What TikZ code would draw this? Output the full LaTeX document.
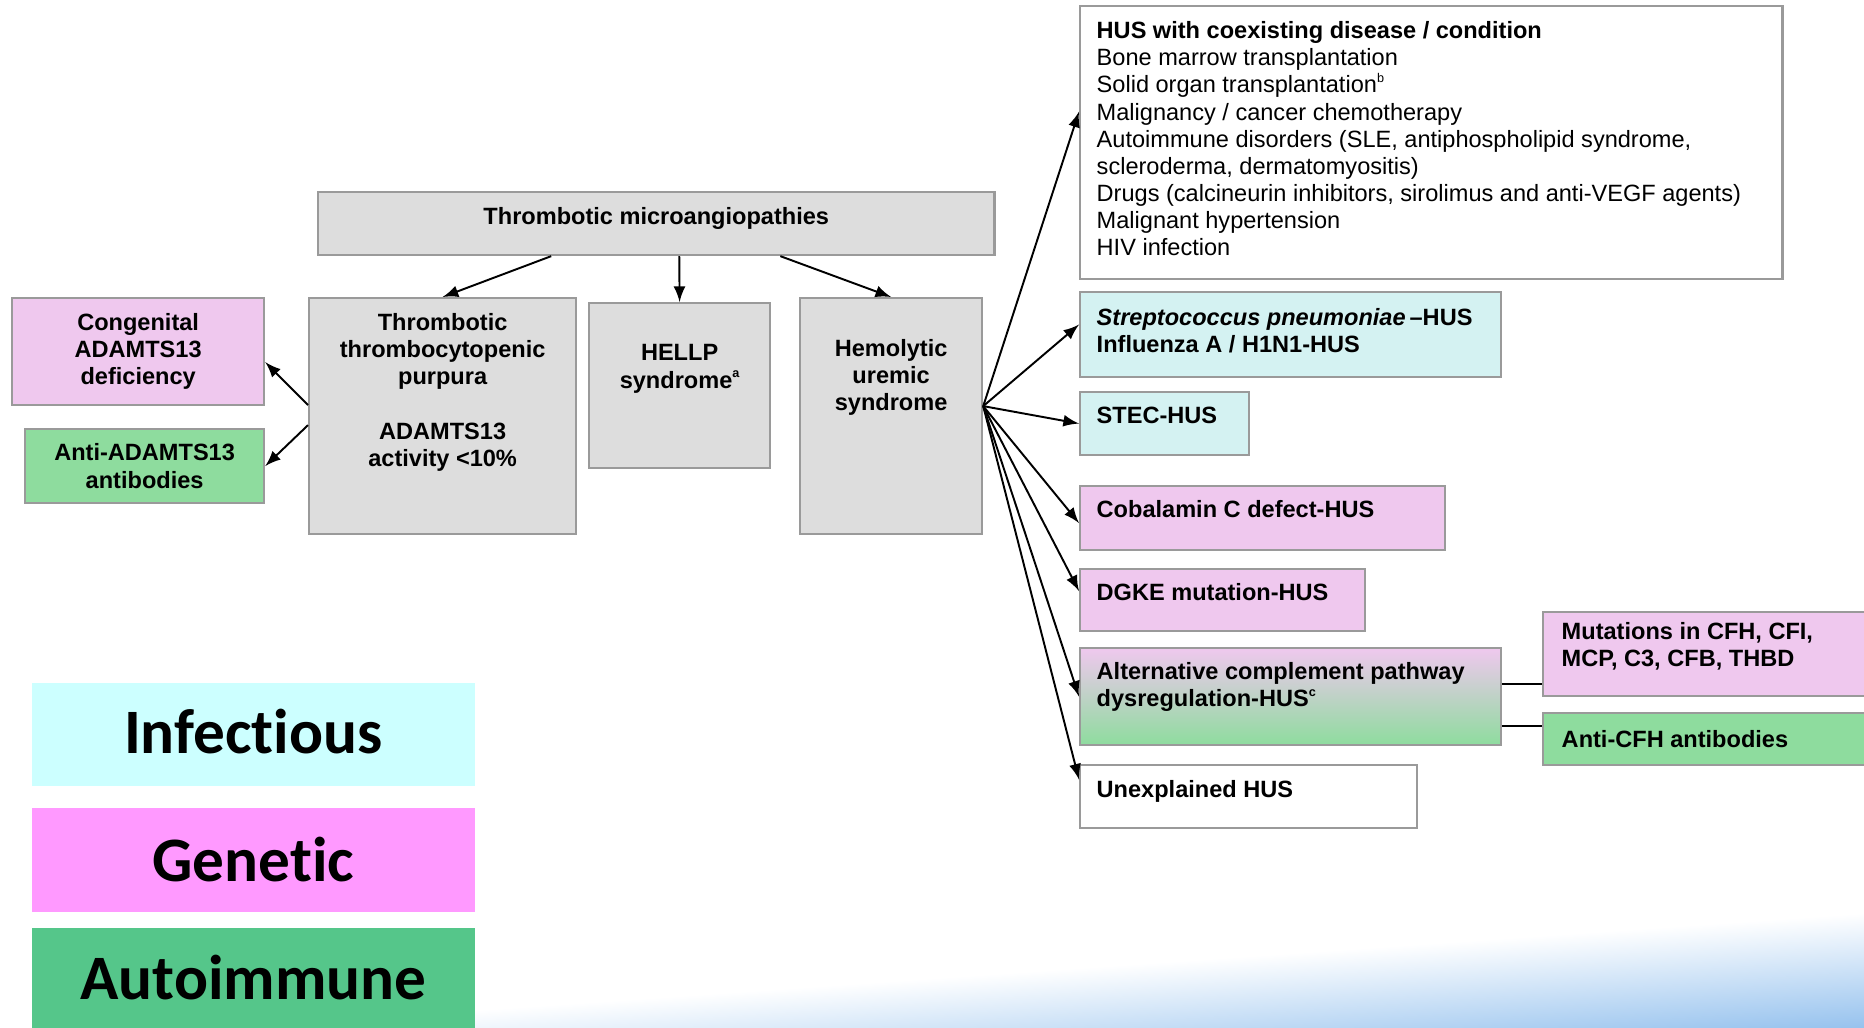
\documentclass[tikz,border=0pt]{standalone}
\usepackage{fontspec}
\setmainfont{Liberation Sans}
\newfontfamily\legendfont[Ligatures=NoCommon]{Carlito}
\usetikzlibrary{positioning}

\definecolor{graybox}{HTML}{DDDDDD}
\definecolor{pinkbox}{HTML}{EFC8EE}
\definecolor{greenbox}{HTML}{8EDC9E}
\definecolor{cyanbox}{HTML}{D4F2F2}
\definecolor{boxline}{HTML}{9A9A9A}
\definecolor{leginf}{HTML}{CCFFFF}
\definecolor{leggen}{HTML}{FF99FF}
\definecolor{legaut}{HTML}{55C68A}
\definecolor{swoosh}{HTML}{96C2EE}

\newcommand{\fn}[1]{\raisebox{0.45em}{\fontsize{3.6}{3.6}\selectfont #1}}

\begin{document}
\begin{tikzpicture}[x=0.01cm, y=0.01cm,
    box/.style={draw=boxline, line width=0.6pt, anchor=north west, inner sep=0pt},
    txt/.style={inner sep=0pt, align=left, font=\fontsize{6.7}{7.7}\selectfont\bfseries},
    ctxt/.style={txt, align=center},
    legbox/.style={anchor=north west, inner sep=0pt, minimum width=4.43cm},
    legtxt/.style={inner sep=0pt, font=\legendfont\bfseries\fontsize{18}{20}\selectfont},
    arr/.style={-latex, line width=0.55pt},
    link/.style={line width=0.7pt}]

    \useasboundingbox (0,0) rectangle (1864,-1027);
    \clip (0,0) rectangle (1864,-1027);

    % background swoosh
    \begin{scope}[transform canvas={rotate around={4:(475,-1010)}}]
        \shade[top color=white, bottom color=swoosh] (-300,-1010) rectangle (2100,-1125);
    \end{scope}

    % legend
    \node[legbox, fill=leginf, minimum height=1.03cm] (inf) at (31,-682) {};
    \node[legtxt] (inftxt) at ([yshift=0.03cm]inf.center) {Infectious};
    \node[legbox, fill=leggen, minimum height=1.04cm] (gen) at (31,-807) {};
    \node[legtxt] (gentxt) at (gen.center) {Genetic};
    \node[legbox, fill=legaut, minimum height=1.00cm] (aut) at (31,-927) {};
    \node[legtxt] (auttxt) at (aut.center) {Autoimmune};

    % tree
    \node[box, fill=graybox, minimum width=6.76cm, minimum height=0.63cm] (tma) at (317,-191) {};
    \node[ctxt, below=0.155cm of tma.north] (tmatxt) {Thrombotic microangiopathies};

    \node[box, fill=graybox, minimum width=2.67cm, minimum height=2.36cm] (ttp) at (308,-297) {};
    \node[ctxt, below=0.16cm of ttp.north] (ttptxt) {Thrombotic\\thrombocytopenic\\purpura\\[7.7pt]ADAMTS13\\activity <10\%};
    \node[box, fill=graybox, minimum width=1.81cm, minimum height=1.65cm] (hellp) at (588,-302) {};
    \node[ctxt, below=0.42cm of hellp.north] (hellptxt) {HELLP\\syndrome\fn{a}};
    \node[box, fill=graybox, minimum width=1.82cm, minimum height=2.36cm] (hus) at (799,-297) {};
    \node[ctxt, below=0.42cm of hus.north] (hustxt) {Hemolytic\\uremic\\syndrome};

    \node[box, fill=pinkbox, minimum width=2.52cm, minimum height=1.07cm] (cong) at (11,-297) {};
    \node[ctxt] (congtxt) at (cong.center) {Congenital\\ADAMTS13\\deficiency};
    \node[box, fill=greenbox, minimum width=2.39cm, minimum height=0.74cm] (anti) at (24,-428) {};
    \node[ctxt] (antitxt) at (anti.center) {Anti-ADAMTS13\\antibodies};

    % HUS categories
    \node[box, fill=white, minimum width=7.02cm, minimum height=2.73cm] (coex) at (1079,-5) {};
    \node[txt, font=\fontsize{6.7}{7.7}\selectfont, below right=0.16cm and 0.17cm of coex.north west] (coextxt)
        {\textbf{HUS with coexisting disease / condition}\\Bone marrow transplantation\\Solid organ transplantation\fn{b}\\Malignancy / cancer chemotherapy\\Autoimmune disorders (SLE, antiphospholipid syndrome,\\scleroderma, dermatomyositis)\\Drugs (calcineurin inhibitors, sirolimus and anti-VEGF agents)\\Malignant hypertension\\HIV infection};
    \node[box, fill=cyanbox, minimum width=4.21cm, minimum height=0.85cm] (strep) at (1079,-291) {};
    \node[txt, below right=0.17cm and 0.17cm of strep.north west] (streptxt) {\textit{Streptococcus pneumoniae}\,--HUS\\Influenza A / H1N1-HUS};
    \node[box, fill=cyanbox, minimum width=1.69cm, minimum height=0.63cm] (stec) at (1079,-391) {};
    \node[txt, below right=0.15cm and 0.17cm of stec.north west] (stectxt) {STEC-HUS};
    \node[box, fill=pinkbox, minimum width=3.65cm, minimum height=0.64cm] (cobal) at (1079,-485) {};
    \node[txt, below right=0.15cm and 0.17cm of cobal.north west] (cobaltxt) {Cobalamin C defect-HUS};
    \node[box, fill=pinkbox, minimum width=2.85cm, minimum height=0.62cm] (dgke) at (1079,-568) {};
    \node[txt, below right=0.15cm and 0.17cm of dgke.north west] (dgketxt) {DGKE mutation-HUS};
    \node[box, top color=pinkbox, bottom color=greenbox, minimum width=4.21cm, minimum height=0.97cm] (alt) at (1079,-647) {};
    \node[txt, below right=0.15cm and 0.17cm of alt.north west] (alttxt) {Alternative complement pathway\\dysregulation-HUS\fn{c}};
    \node[box, fill=white, minimum width=3.37cm, minimum height=0.63cm] (unexpl) at (1079,-764) {};
    \node[txt, below right=0.16cm and 0.17cm of unexpl.north west] (unexpltxt) {Unexplained HUS};

    \node[box, fill=pinkbox, minimum width=3.6cm, minimum height=0.84cm] (mut) at (1542,-611) {};
    \node[txt, below right=0.11cm and 0.19cm of mut.north west] (muttxt) {Mutations in CFH, CFI,\\MCP, C3, CFB, THBD};
    \node[box, fill=greenbox, minimum width=3.6cm, minimum height=0.52cm] (acfh) at (1542,-712) {};
    \node[txt, right=0.19cm of acfh.west] (acfhtxt) {Anti-CFH antibodies};

    % connectors
    \draw[arr] ([xshift=-1.05cm]tma.south) -- (ttp.north);
    \draw[arr] ([xshift=0.23cm]tma.south) -- (hellp.north);
    \draw[arr] ([xshift=1.24cm]tma.south) -- (hus.north);
    \draw[arr] ([yshift=0.11cm]ttp.west) -- ([yshift=-0.105cm]cong.east);
    \draw[arr] ([yshift=-0.09cm]ttp.west) -- (anti.east);

    \coordinate (fan) at ([yshift=0.1cm]hus.east);
    \foreach \t/\s in {coex/0.31, strep/0.1, stec/0, cobal/-0.05, dgke/0.09, alt/0, unexpl/0.17}
        \draw[arr] (fan) -- ([yshift=\s cm]\t.west);

    \draw[link] ([yshift=0.125cm]alt.east) coordinate (l1) -- (l1 -| mut.west);
    \draw[link] ([yshift=-0.295cm]alt.east) coordinate (l2) -- (l2 -| acfh.west);

\end{tikzpicture}
\end{document}
